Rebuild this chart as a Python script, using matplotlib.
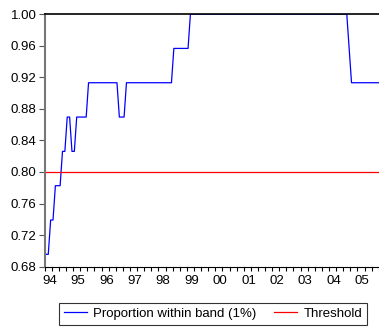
import matplotlib
matplotlib.use("Agg")
import matplotlib.pyplot as plt
import numpy as np

plt.rcParams['font.family'] = ['Liberation Sans', 'DejaVu Sans']

# monthly proportion (k/23 within band), read as runs of equal value
levels = [16, 17, 18, 19, 20, 19, 20, 21, 20, 21, 22, 23, 22, 21]
months = [2, 2, 3, 2, 2, 2, 5, 13, 3, 20, 7, 67, 1, 15]
n_series = 23
threshold = 0.80
years = ['94', '95', '96', '97', '98', '99', '00', '01', '02', '03', '04', '05']
yticks = [0.68, 0.72, 0.76, 0.80, 0.84, 0.88, 0.92, 0.96, 1.00]

prop = np.repeat(levels, months) / n_series
t = np.arange(len(prop))

fig = plt.figure(figsize=(3.79, 3.27), dpi=100)
ax = fig.add_axes([0.118, 0.1844, 0.882, 0.7725])

ax.plot(t, prop, color='#0000ff', lw=0.9, label='Proportion within band (1%)')
ax.plot(t, np.full(len(t), threshold), color='#ff0000', lw=0.9, label='Threshold')

ax.set_xlim(-0.4, 140.6)
ax.set_ylim(0.68, 1.00)
ax.set_yticks(yticks)
ax.set_yticklabels(['%.2f' % v for v in yticks], fontsize=9.5)

# year labels (no marks), quarterly tick marks
ax.set_xticks([12 * k + 1.5 for k in range(len(years))])
ax.set_xticklabels(years, fontsize=9.5)
ax.tick_params(axis='x', which='major', length=0, pad=6)
ax.set_xticks(np.arange(-0.5, 141, 3), minor=True)
ax.tick_params(axis='x', which='minor', length=3, width=0.8, color='black')
ax.tick_params(axis='y', length=4, width=0.8, color='#555555', pad=2)

ax.spines['right'].set_visible(False)
ax.spines['left'].set_color('#777777')
ax.spines['left'].set_linewidth(1.5)
ax.spines['top'].set_color('black')
ax.spines['top'].set_linewidth(1.2)
ax.spines['bottom'].set_color('black')
ax.spines['bottom'].set_linewidth(0.8)

leg = fig.legend(loc='upper center', bbox_to_anchor=(0.5617, 0.073), ncol=2,
                 fontsize=9.5, frameon=True, fancybox=False, edgecolor='black',
                 handlelength=1.8, columnspacing=1.3, borderpad=0.35,
                 handletextpad=0.45, borderaxespad=0.0)
leg.get_frame().set_linewidth(0.8)

fig.savefig('out.png', dpi=100)
